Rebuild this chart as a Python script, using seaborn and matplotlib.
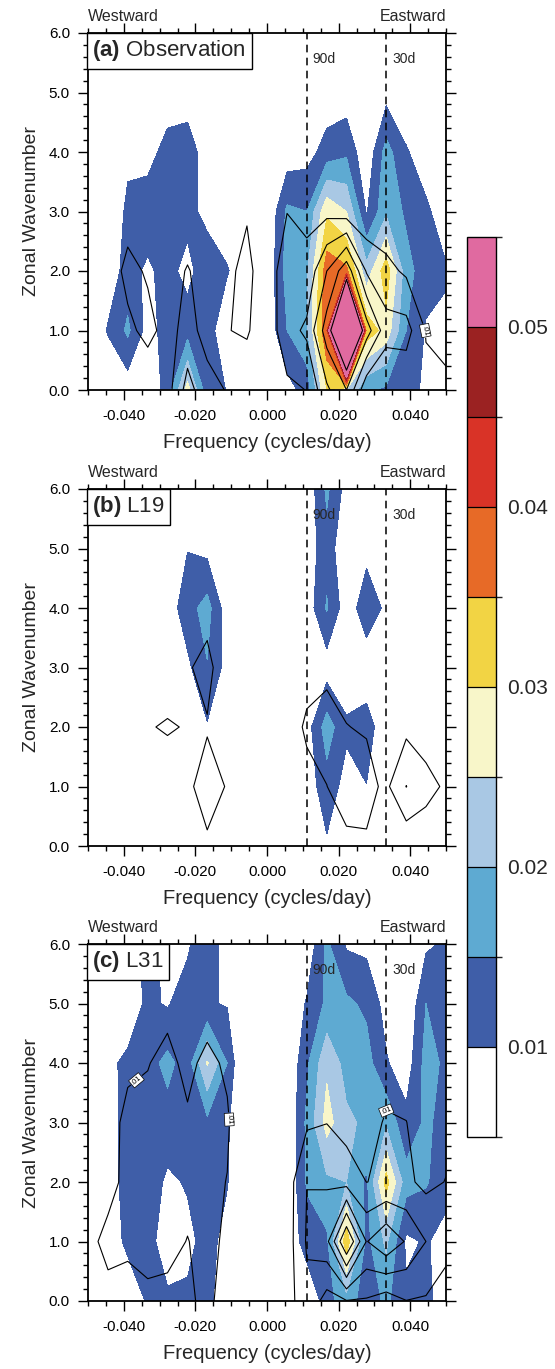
import numpy as np
import matplotlib
matplotlib.use("Agg")
import matplotlib.pyplot as plt
import seaborn as sns
from matplotlib.colors import ListedColormap, BoundaryNorm
from matplotlib.ticker import MultipleLocator, FuncFormatter
import matplotlib.cm as cm

# ---- grid of the spectra ----
freq = [-0.0500, -0.0444, -0.0389, -0.0333, -0.0278, -0.0222, -0.0167, -0.0111, -0.0056,
        0.0000, 0.0056, 0.0111, 0.0167, 0.0222, 0.0278, 0.0333, 0.0389, 0.0444, 0.0500]
wavenum = [0, 1, 2, 3, 4, 5, 6]

# power values, units of 1e-3
# rows: wavenumber 0..6, columns: freq
obs_shade = [
    [3, 5, 7, 6, 12, 27, 12, 9.8, 4, 4, 8, 12, 30, 25, 16, 14, 12, 9, 6],
    [4, 10.5, 16, 8, 12, 13, 13, 5, 5, 6, 15, 19, 40, 150, 33, 28, 15, 9.5, 9],
    [4, 7, 12, 9, 12, 8, 14, 10.5, 5, 6, 17, 19, 38, 36, 22, 33, 17, 12, 10.5],
    [3, 6, 11, 13, 12, 12, 8, 6, 4, 5, 16, 15, 29, 25, 9.5, 19, 14, 11, 7],
    [2, 4, 9, 8, 12, 13, 7, 4, 3, 4, 7, 8, 12, 14, 6, 17, 10.5, 7, 5],
    [2, 3, 5, 6, 7, 7, 5, 3, 2, 3, 5, 6, 7, 7, 4, 8, 6, 4, 3],
    [2, 2, 3, 3, 4, 4, 3, 2, 2, 2, 3, 4, 4, 4, 3, 4, 4, 3, 2],
]
obs_line = [
    [3, 4, 5, 3.6, 6, 24, 13, 9.5, 4.3, 5, 8, 10.2, 28, 40, 12, 10, 12, 12, 12],
    [4, 6, 8, 12.5, 7, 13, 7, 9.75, 11, 4, 16, 22, 45, 70, 45, 24, 24, 9.5, 7],
    [4, 5, 12.5, 9, 5, 10.8, 5, 8.1, 12.5, 4.2, 16, 13, 30, 46.7, 19, 13, 8.3, 8, 6],
    [3, 4, 6.3, 5, 4, 3, 4, 5, 9.2, 4, 9.8, 7.6, 7.3, 5, 2, 2.5, 6, 5, 4],
    [2, 3, 4, 4, 3, 3, 3, 4, 5, 3, 5, 4, 4, 4, 3, 3, 3, 3, 3],
    [2, 2, 3, 3, 2, 2, 2, 3, 3, 2, 3, 3, 3, 3, 2, 2, 2, 2, 2],
    [2, 2, 2, 2, 2, 2, 2, 2, 2, 2, 2, 2, 2, 2, 2, 2, 2, 2, 2],
]
l19_shade = [
    [2, 2, 2, 3, 3, 4, 6, 4, 3, 3, 4, 5, 9.25, 5, 4, 3, 3, 3, 2],
    [2, 3, 3, 3, 4, 5, 6, 4, 3, 3, 5, 7, 13, 8, 9.9, 6, 4, 3, 2],
    [2, 3, 3, 4, 5, 7, 9.5, 6, 3, 3, 5, 7.6, 17.5, 11, 12, 7, 4, 3, 2],
    [3, 3, 4, 5, 6, 8.8, 14.7, 8, 4, 3, 5, 6, 7.5, 6, 7, 5, 4, 3, 2],
    [3, 3, 4, 5, 7, 13, 17, 7, 4, 3, 5, 6.9, 15.5, 7, 13, 9, 4, 3, 2],
    [2, 3, 3, 4, 6, 9.8, 8.5, 5, 3, 3, 5, 6.9, 13.1, 5.35, 8.5, 5, 3, 3, 2],
    [2, 2, 3, 3, 4, 5, 5, 4, 3, 3, 4, 6, 16, 8, 5, 4, 3, 2, 2],
]
l19_line = [
    [2, 2, 3, 3, 4, 5, 9.26, 5, 3, 3, 4, 6, 7, 8, 8.8, 6, 2.6, 6.1, 6],
    [2, 3, 3, 4, 4, 9.1, 12, 9.7, 4, 3, 5, 8, 9.9, 14, 13, 8, 20.2, 12, 9.1],
    [2, 3, 4, 9.3, 11, 9.3, 9.6, 6, 4, 3, 6.65, 11, 13, 10.2, 9.25, 6, 7.45, 7, 5],
    [2, 3, 3, 4, 4, 9.5, 11.5, 6.5, 4, 3, 5, 7.7, 8.2, 7, 6, 5, 5, 4, 3],
    [2, 2, 3, 3, 4, 5, 8.2, 5, 3, 3, 4, 5, 5, 5, 4, 4, 3, 3, 2],
    [2, 2, 2, 3, 3, 4, 5, 4, 3, 2, 3, 3, 3, 3, 3, 3, 2, 2, 2],
    [2, 2, 2, 2, 3, 3, 3, 3, 2, 2, 2, 2, 2, 2, 2, 2, 2, 2, 2],
]
l31_shade = [
    [3, 5, 7, 10.5, 11, 11, 12, 5.3, 3, 2, 4, 4.4, 13, 18, 12, 16, 11, 11, 8],
    [4, 7.5, 11, 12, 7, 8.5, 12, 8, 3, 3, 5, 13, 14, 33, 13.5, 21, 9, 10.5, 8],
    [4, 7.5, 12, 13, 9, 10.5, 13, 10.3, 3, 3, 5, 15.5, 19, 20, 14, 32, 17, 15.5, 12],
    [4, 7.6, 12, 14, 13, 12, 13.8, 11, 2, 3, 5, 16, 27, 21, 19, 19, 11.5, 16, 13],
    [4, 9, 11, 13, 16.5, 12.4, 25.5, 15, 1, 3, 5, 14, 24, 18, 17, 10.5, 7, 17, 14],
    [3, 4, 7, 11, 9.5, 13, 10.5, 9.6, 3, 3, 5, 10.5, 16, 16, 14, 8, 5, 15, 14],
    [3, 5, 7, 12, 8, 9, 15, 6, 3, 3, 5, 6, 16, 9.3, 8.7, 5, 4, 9, 11],
]
l31_line = [
    [6, 8.9, 6, 8.8, 8.2, 9.3, 11, 8.1, 2, 4, 5, 17.7, 5.9, 9.5, 9, 5, 9.8, 9, 8.6],
    [9, 11, 12, 12, 12, 9.8, 12, 8.7, 2, 4, 5, 21, 27.3, 61.2, 29.5, 38, 29, 20, 11],
    [5, 8.8, 11, 12, 11, 12, 12, 9.8, 2, 4, 5, 19.85, 18.9, 16.6, 9.9, 11.3, 12, 7.5, 10.3],
    [4, 8.5, 11, 12, 11, 11, 12, 11, 2, 4, 5, 8.5, 9.8, 5.6, 7, 10.8, 10.1, 7, 7],
    [3, 5, 9.3, 9.7, 12, 8.1, 12, 8.7, 2, 3, 4, 5, 6, 4, 5, 6.8, 7, 6, 6],
    [2, 3, 4, 5, 8, 6, 6.3, 5, 2, 2, 3, 4, 4, 4, 4, 4, 4, 4, 4],
    [2, 2, 3, 3, 4, 4, 3, 3, 2, 2, 3, 3, 3, 3, 3, 3, 3, 3, 3],
]

shade_levels = [0.01, 0.015, 0.02, 0.025, 0.03, 0.035, 0.04, 0.045, 0.05]
line_levels = [0.01, 0.02, 0.03, 0.04, 0.05]
shade_colors = ["#ffffff", "#3f5ea8", "#5eaad2", "#a9c8e4", "#f8f6c9", "#f2d444",
                "#e76a27", "#d93327", "#9b2222", "#e06aa0"]
cbar_ticks = [0.01, 0.02, 0.03, 0.04, 0.05]
periods = [1 / 90, 1 / 30]
period_names = ["90d", "30d"]
xticks = [-0.04, -0.02, 0.0, 0.02, 0.04]
yticks = [0, 1, 2, 3, 4, 5, 6]

panels = [
    ("(a)", "Observation", obs_shade, obs_line, [(0.0442, 1.0)]),
    ("(b)", "L19", l19_shade, l19_line, []),
    ("(c)", "L31", l31_shade, l31_line, [(-0.0362, 3.69), (-0.0105, 3.05), (0.0333, 3.22)]),
]

# ---- layout (figure pixels) ----
W, H = 555, 1369
ax_left, ax_w, ax_h = 88, 358, 357
ax_tops = [33, 489, 944]
cb_box = (467, 237, 29, 900)

sns.set_theme(style="ticks")
plt.rcParams["font.family"] = ["Liberation Sans", "DejaVu Sans"]
plt.rcParams["mathtext.fontset"] = "custom"
plt.rcParams["mathtext.bf"] = "Liberation Sans:bold"
plt.rcParams["mathtext.rm"] = "Liberation Sans"

fig = plt.figure(figsize=(W / 100, H / 100), dpi=100)
fig.patch.set_facecolor("white")

fill_bounds = [-1.0] + shade_levels + [1.0]
palette = sns.color_palette(shade_colors)


def lab_fmt(v):
    return f"{v:.2f}".lstrip("0")


for (tag, name, shade, line, spots), top in zip(panels, ax_tops):
    ax = fig.add_axes([ax_left / W, 1 - (top + ax_h) / H, ax_w / W, ax_h / H])
    z = np.array(shade) * 1e-3
    zl = np.array(line) * 1e-3
    ax.contourf(freq, wavenum, z, levels=fill_bounds, colors=palette)
    cs = ax.contour(freq, wavenum, zl, levels=line_levels, colors="black",
                    linewidths=0.8)
    if spots:
        txts = ax.clabel(cs, levels=[line_levels[0]], manual=spots, fmt=lab_fmt,
                         fontsize=5.5, inline=True, inline_spacing=2)
        for t in txts:
            t.set_bbox(dict(boxstyle="square,pad=0.15", facecolor="white",
                            edgecolor="black", linewidth=0.5))

    for p, pn in zip(periods, period_names):
        ax.axvline(p, color="black", linestyle=(0, (5, 3.5)), linewidth=1.1)
        ax.text(p + 0.0016, 5.57, pn, fontsize=10, ha="left", va="center")

    ax.set_xlim(-0.05, 0.05)
    ax.set_ylim(0, 6)
    ax.set_xticks(xticks)
    ax.set_yticks(yticks)
    ax.xaxis.set_minor_locator(MultipleLocator(0.005))
    ax.yaxis.set_minor_locator(MultipleLocator(0.2))
    ax.xaxis.set_major_formatter(FuncFormatter(lambda v, p: f"{v:.3f}"))
    ax.yaxis.set_major_formatter(FuncFormatter(lambda v, p: f"{v:.1f}"))
    ax.tick_params(which="both", direction="out", top=True, right=True,
                   width=1.0, colors="black", labelsize=11)
    ax.tick_params(which="major", length=7)
    ax.tick_params(which="minor", length=3.6)
    ax.tick_params(axis="x", pad=7)
    ax.tick_params(axis="y", pad=6)
    for s in ax.spines.values():
        s.set_linewidth(1.3)
        s.set_color("black")
    ax.set_xlabel("Frequency (cycles/day)", fontsize=14.5, labelpad=7)
    ax.set_ylabel("Zonal Wavenumber", fontsize=14, labelpad=6)

    ax.annotate("Westward", xy=(0, 1), xycoords="axes fraction", xytext=(0, 12),
                textcoords="offset points", ha="left", va="center", fontsize=11.5)
    ax.annotate("Eastward", xy=(1, 1), xycoords="axes fraction", xytext=(0, 12),
                textcoords="offset points", ha="right", va="center", fontsize=11.5)
    ax.text(0.012, 0.985, r"$\mathbf{" + tag + "}$ " + name, transform=ax.transAxes,
            ha="left", va="top", fontsize=16, zorder=5,
            bbox=dict(boxstyle="square,pad=0.25", facecolor="white",
                      edgecolor="black", linewidth=1.0))

# ---- colour bar ----
cx, cy, cw, ch = cb_box
cax = fig.add_axes([cx / W, 1 - (cy + ch) / H, cw / W, ch / H])
bounds = [0.005] + shade_levels + [0.055]
sm = cm.ScalarMappable(norm=BoundaryNorm(bounds, len(shade_colors)),
                       cmap=ListedColormap(shade_colors))
cb = fig.colorbar(sm, cax=cax, ticks=cbar_ticks, drawedges=True)
cb.outline.set_linewidth(1.0)
cb.outline.set_edgecolor("black")
cb.dividers.set_color("black")
cb.dividers.set_linewidth(0.9)
cb.ax.tick_params(length=0, labelsize=15, pad=8)
cb.ax.set_yticklabels([f"{t:.2f}" for t in cbar_ticks])

fig.savefig("out.png", dpi=100, facecolor="white")
